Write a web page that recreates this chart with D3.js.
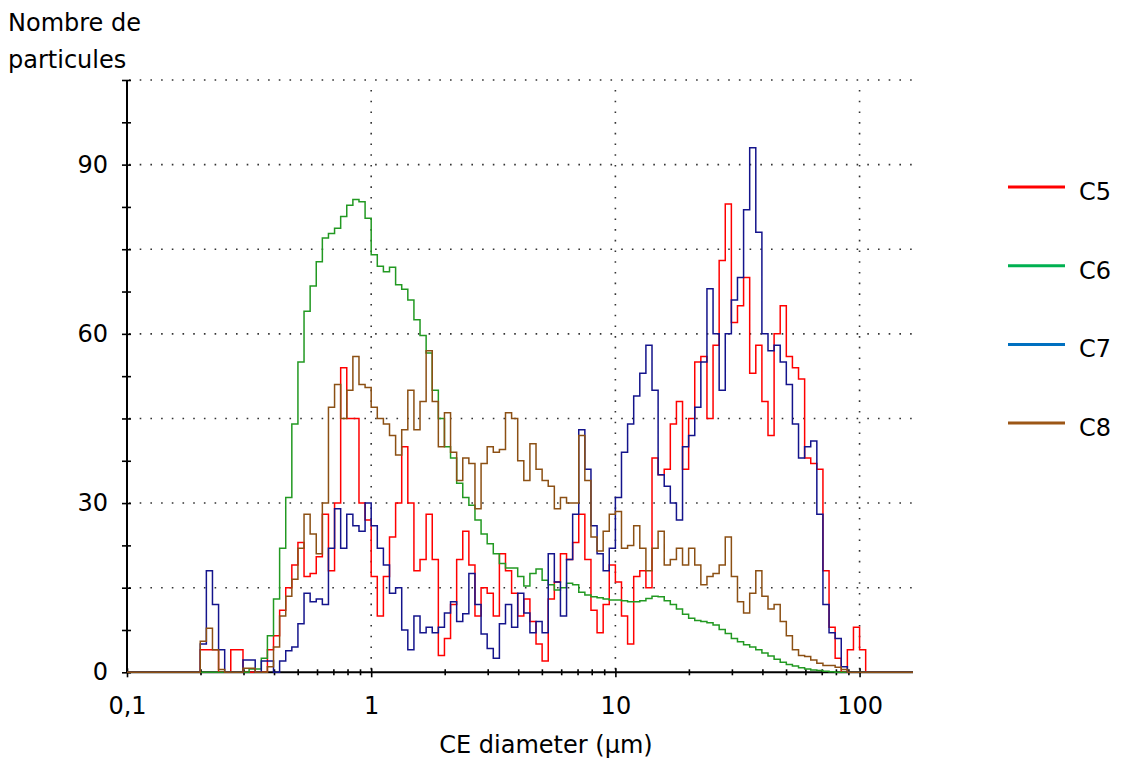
<!DOCTYPE html>
<html>
<head>
<meta charset="utf-8">
<script src="https://cdn.jsdelivr.net/npm/d3@7"></script>
<style>
  body { margin: 0; background: #fff; }
  text { font-family: "DejaVu Sans", sans-serif; fill: #000; }
</style>
</head>
<body>
<svg id="chart" width="1122" height="758"></svg>
<script>
// ---- data ----
// histogram bins on a log grid (40 bins per decade starting at 0.1 µm)
const diameters = d3.range(130).map(i => 0.1 * Math.pow(10, i / 40));

const seriesNames = ["C5", "C6", "C7", "C8"];

const c5 = [0,0,0,0,0,0,0,0,0,0,0,0,
  4,4,4,0,0,4,4,0,0,0,0,4,
  6.5,11,15,19,23,17,17.5,20.5,28,18,30,54,45,45,30,27,
  17,10,17,24,30,40,30,18,20,28,
  20,3,6,12,20,25,19,10,15,14,
  10,21,18,14,10,13,9,5,2,13,
  16,21,20,23,28,20,11,7,12,19,
  16,10,5,17,18,15,38,35,36,44,
  48,36,45,55,56,45,58,73,83,62,
  65,70,53,58,48,42,60,65,56,54,
  52,38,37,36,18,8,2.5,0,4,8,
  4,0,0,0,0,0,0,0,0,0];

const c6 = [0,0,0,0,0,0,0,0,0,0,0,0,0,0,0,0,0,0,0,0,
  0.6,0.6,2.5,6.5,13,22,31,44,55,64,
  68.5,72.8,77,77.8,78.7,80.8,82.8,83.8,83.4,80.5,
  74,72,71,71.8,68.7,67.9,66,62.5,59.7,56.6,
  50,45,40,38,33.5,31,29.6,27,24.5,22.8,
  21,19.3,18.5,18.5,17,15.3,17.5,18.3,16.3,15.5,
  14.6,15,15.8,15.5,14.2,13.7,13.4,13.2,13,12.8,
  12.8,12.7,12.5,12.5,12.7,13.1,13.5,13.4,12.7,12,
  11.2,10.3,9.6,9.2,9,8.8,8.4,7.6,6.9,6,
  5.4,4.9,4.5,4,3.4,2.9,2.3,1.8,1.4,1.1,
  0.8,0.6,0.4,0.3,0.2,0.1,0,0,0,0,0,0,0,0,0,0,0,0,0,0];

const c7 = [0,0,0,0,0,0,0,0,0,0,0,0,
  5,18,12,4,0,0,0,2.2,2.2,0,2,2,0,2,3.8,4.5,8.6,14,
  12.5,13,12,22,29,22,28,26,25,30,
  26,22,19,14,15,7.5,4,10,7,8,
  7,8,10.5,12.5,9,10.4,17.5,12,6.8,4.2,
  2.5,8.6,12,8,14,10.5,7,9,7,21,
  16,10,20,28,43,36,26,21,18,22,
  31,39,44,49,53,58,50,35,33,30,
  27,40,42,47,55,68,60,50,60,66,
  70,82,93,78,60,57,58,55,51,44,
  38,40,41,28,12,7,6,1,0,0,0,0,0,0,0,0,0,0,0,0];

const c8 = [0,0,0,0,0,0,0,0,0,0,0,0,
  5.5,7.8,4,0.5,0,0,0,0.7,0.7,0,0,1,4.5,10,13.5,16.5,22,28,
  24.5,21,30,47,51,45,50,56,51,50.5,
  47,45,44,42,38.5,43,50,43,48,57,
  48,40,46,39,34,38,37,29,37,40,
  39,39.5,46,45,37.5,34,40.5,36,34,33,
  29,31,30,30,42,34,24,21.5,25,28,
  28.5,22,22.5,26,22,18,22,25,19,20,
  22,19,22,19,15.5,17,17.5,19,24,17,
  12.5,10.5,14,18,13.5,11.2,12,9,6.5,4,
  3,2.8,2.2,1.6,1.2,1.2,0.9,0.5,0,0,0,0,0,0,0,0,0,0,0,0];

const seriesValues = [c5, c6, c7, c8];
const seriesColors = ["#ff0000", "#229922", "#14148c", "#8c5014"];
const legendColors = ["#ff0000", "#00b050", "#0070c0", "#9c5616"];

const yTickValues = [0, 7.5, 15, 22.5, 30, 37.5, 45, 52.5, 60, 67.5, 75, 82.5, 90, 97.5, 105];
const yLabelValues = [0, 30, 60, 90];
const yGridValues = [15, 30, 45, 60, 75, 90, 105];
const xMajorTicks = [0.1, 1, 10, 100];
const xMinorTicks = [0.2,0.3,0.4,0.5,0.6,0.7,0.8,0.9,2,3,4,5,6,7,8,9,20,30,40,50,60,70,80,90];
const xTickLabels = ["0,1", "1", "10", "100"];
const xDomainMax = 165.5;

// ---- layout ----
const svg = d3.select("#chart");
const X0 = 127, X1 = 913, Y0 = 672.3, Y1 = 80;
const FS = 24;

const x = d3.scaleLog().domain([0.1, xDomainMax]).range([X0, X1]);
const y = d3.scaleLinear().domain([0, 105]).range([Y0, Y1]);

// gridlines (dotted)
const grid = svg.append("g").attr("stroke", "#333").attr("stroke-width", 1.6)
  .attr("stroke-dasharray", "1.6,9.1");
grid.selectAll("line.h").data(yGridValues).join("line").attr("class", "h")
  .attr("x1", X0 + 2).attr("x2", X1).attr("y1", d => y(d)).attr("y2", d => y(d));
grid.selectAll("line.v").data([1, 10, 100]).join("line").attr("class", "v")
  .attr("x1", d => x(d)).attr("x2", d => x(d)).attr("y1", Y1 + 10).attr("y2", Y0);

// clip
svg.append("clipPath").attr("id", "plotclip").append("rect")
  .attr("x", X0).attr("y", Y1 - 20).attr("width", X1 - X0).attr("height", Y0 - Y1 + 22);

// axes
const xAxis = svg.append("g").attr("transform", `translate(0,${Y0})`)
  .call(d3.axisBottom(x).tickValues(xMinorTicks.concat(xMajorTicks)).tickSize(3).tickFormat(""));
xAxis.select(".domain").attr("stroke", "#000").attr("stroke-width", 2).attr("d", `M${X0},0H${X1}`);
xAxis.selectAll(".tick line").attr("stroke", "#000").attr("stroke-width", 1.6)
  .attr("y1", d => xMajorTicks.includes(d) ? -4 : -3).attr("y2", d => xMajorTicks.includes(d) ? 5 : 3);
xAxis.selectAll(".tick").filter(d => xMajorTicks.includes(d)).select("text")
  .text(d => xTickLabels[xMajorTicks.indexOf(d)])
  .attr("y", 42).attr("dy", null).attr("font-size", FS).attr("fill", "#000")
  .attr("font-family", '"DejaVu Sans", sans-serif');

const yAxis = svg.append("g").attr("transform", `translate(${X0},0)`)
  .call(d3.axisLeft(y).tickValues(yTickValues).tickSize(5)
    .tickFormat(d => yLabelValues.includes(d) ? d3.format("d")(d) : ""));
yAxis.select(".domain").attr("stroke", "#000").attr("stroke-width", 2).attr("d", `M0,${Y0}V${Y1}`);
yAxis.selectAll(".tick line").attr("stroke", "#000").attr("stroke-width", 1.6).attr("x1", 4).attr("x2", -5);
yAxis.selectAll(".tick text").attr("x", -19).attr("font-size", FS).attr("fill", "#000")
  .attr("font-family", '"DejaVu Sans", sans-serif');

// series
const line = d3.line().x(d => x(d[0])).y(d => y(d[1])).curve(d3.curveStepAfter);
const seriesG = svg.append("g").attr("clip-path", "url(#plotclip)");
seriesValues.forEach((vals, k) => {
  const pts = diameters.map((d, i) => [d, vals[i]]);
  seriesG.append("path").datum(pts).attr("d", line)
    .attr("fill", "none").attr("stroke", seriesColors[k]).attr("stroke-width", 1.5)
    .attr("stroke-linejoin", "miter");
});

// titles
svg.append("text").attr("x", 8).attr("y", 31).attr("font-size", FS).text("Nombre de");
svg.append("text").attr("x", 8).attr("y", 68).attr("font-size", FS).text("particules");
svg.append("text").attr("x", 546).attr("y", 753).attr("text-anchor", "middle")
  .attr("font-size", FS).text("CE diameter (µm)");

// legend
const leg = svg.append("g");
seriesNames.forEach((name, k) => {
  const ly = 187 + k * 78.7;
  leg.append("line").attr("x1", 1008).attr("x2", 1065).attr("y1", ly).attr("y2", ly)
    .attr("stroke", legendColors[k]).attr("stroke-width", 3);
  leg.append("text").attr("x", 1079).attr("y", ly + 13).attr("font-size", FS).text(name);
});
</script>
</body>
</html>
